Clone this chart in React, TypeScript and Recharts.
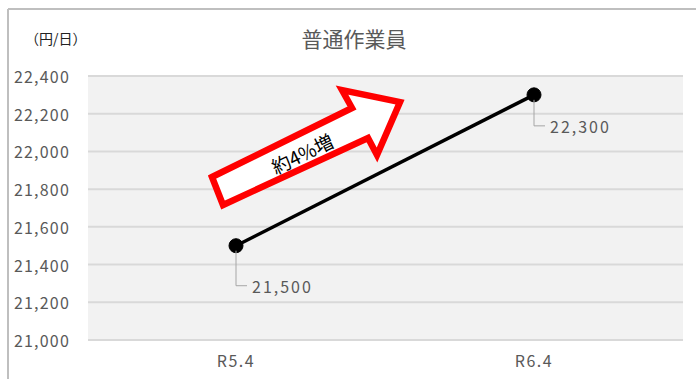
import { LineChart, Line, XAxis, YAxis, CartesianGrid, LabelList } from "recharts"

// 年度ラベル
const periods = ["R5.4", "R6.4"]
// 普通作業員の日額（円/日）
const wages = [21500, 22300]
// 縦軸の目盛
const yTicks = [21000, 21200, 21400, 21600, 21800, 22000, 22200, 22400]

const chartData = periods.map((p, i) => ({ period: p, wage: wages[i] }))

const FONT = "'Noto Sans CJK JP', 'Noto Sans', sans-serif"
const TEXT_GRAY = "#595959"

const fmt = (v: number) => v.toLocaleString("en-US")

function YTick({ x, y, payload }: any) {
  return (
    <text x={x} y={y} textAnchor="end" dominantBaseline="central" fill={TEXT_GRAY} fontSize={16} fontFamily={FONT} letterSpacing={1.2}>
      {fmt(payload.value)}
    </text>
  )
}

function XTick({ x, y, payload }: any) {
  return (
    <text x={x} y={y} textAnchor="middle" dominantBaseline="central" fill={TEXT_GRAY} fontSize={16} fontFamily={FONT} letterSpacing={1.5}>
      {payload.value}
    </text>
  )
}

// データラベル（引き出し線つき）
function PointLabel(props: any) {
  const { x, y, value } = props
  if (x == null || y == null) return null
  const i = wages.indexOf(value)
  const drop = i === 0 ? 40 : 31
  const ly = y + drop
  return (
    <g>
      <path d={`M${x},${y + 5} L${x},${ly} L${x + 11},${ly}`} stroke="#a6a6a6" strokeWidth={1} fill="none" />
      <text x={x + 16} y={ly} dominantBaseline="central" fill={TEXT_GRAY} fontSize={16} fontFamily={FONT} letterSpacing={2}>
        {fmt(value)}
      </text>
    </g>
  )
}

export default function App() {
  return (
    <div style={{ position: "absolute", left: 0, top: 0, width: 696, height: 379, background: "#fff" }}>
      <LineChart
        width={696}
        height={379}
        data={chartData}
        margin={{ top: 76, right: 13, left: 0, bottom: 0 }}
      >
        <CartesianGrid vertical={false} fill="#f2f2f2" stroke="#d9d9d9" strokeWidth={2} />
        <XAxis
          dataKey="period"
          axisLine={false}
          tickLine={false}
          height={39}
          tickMargin={14}
          padding={{ left: 148, right: 149 }}
          tick={<XTick />}
        />
        <YAxis
          domain={[21000, 22400]}
          ticks={yTicks}
          width={88}
          axisLine={false}
          tickLine={false}
          tickMargin={12}
          tick={<YTick />}
        />
        <Line
          dataKey="wage"
          stroke="#000"
          strokeWidth={3.5}
          dot={{ r: 7, fill: "#000", stroke: "#000", strokeWidth: 1 }}
          activeDot={false}
          isAnimationActive={false}
        >
          <LabelList dataKey="wage" content={<PointLabel />} />
        </Line>
      </LineChart>

      <svg width={696} height={379} style={{ position: "absolute", left: 0, top: 0, pointerEvents: "none" }}>
        {/* 枠線 */}
        <line x1={8} y1={9} x2={696} y2={9} stroke="#bfbfbf" strokeWidth={2} />
        <line x1={8} y1={9} x2={8} y2={379} stroke="#bfbfbf" strokeWidth={2} />
        <text x={354} y={38} textAnchor="middle" dominantBaseline="central" fill={TEXT_GRAY} fontSize={21} fontFamily={FONT}>
          普通作業員
        </text>
        <text x={25} y={38} dominantBaseline="central" fill="#222" fontSize={14} fontFamily={FONT}>
          （円/日）
        </text>
        {/* 増加を示す矢印 */}
        <polygon
          points="212,177 352,108 342,90 400,102 377,155 368,138 223,205"
          fill="#fff"
          stroke="#ff0000"
          strokeWidth={6.5}
          strokeLinejoin="miter"
        />
        <text
          x={302}
          y={153}
          textAnchor="middle"
          dominantBaseline="central"
          fill="#000"
          fontSize={19}
          fontFamily={FONT}
          transform="rotate(-26 302 153)"
        >
          約4%増
        </text>
      </svg>
    </div>
  )
}
